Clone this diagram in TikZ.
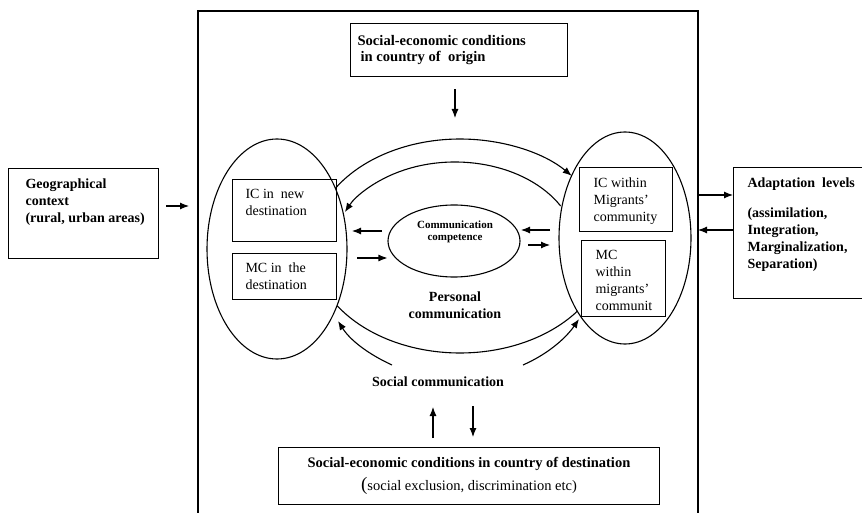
\documentclass[tikz,border=0pt]{standalone}
\usepackage{fontspec}
\setmainfont{Liberation Serif}
\usetikzlibrary{arrows.meta,shapes.geometric}
\begin{document}
\begin{tikzpicture}[x=1pt,y=1pt, line width=1.1pt,
  box/.style={draw, rectangle, inner sep=0pt, anchor=north west},
  txt/.style={inner sep=0pt, anchor=north west, align=left, font=\fontsize{14}{17}\selectfont},
  bt/.style={inner sep=0pt, anchor=north west, align=left, font=\fontsize{14}{17}\selectfont\bfseries},
  arr/.style={-{Latex[length=9pt,width=7pt]}},
  ell/.style={draw, ellipse, inner sep=0pt}]
\useasboundingbox (0,0) rectangle (862,-513);

% main frame
\coordinate (fbl) at (198,-513);
\coordinate (ftl) at (198,-11);
\coordinate (ftr) at (698,-11);
\coordinate (fbr) at (698,-513);
\draw (fbl) -- (ftl) -- (ftr) -- (fbr);

% boxes
\node[box, minimum width=150, minimum height=90] (geo) at (8,-168) {};
\node[bt] (geotxt) at (25,-178) {Geographical\\context\\(rural, urban areas)};

\node[box, minimum width=217, minimum height=53] (top) at (350,-23) {};
\node[bt, font=\fontsize{14.6}{16}\selectfont\bfseries] (toptxt) at (357,-35) {Social-economic conditions\\\hspace{3pt}in country of~ origin};

\node[box, minimum width=104, minimum height=62] (icnew) at (232,-179) {};
\node[txt] (icnewtxt) at (245,-189) {IC in~ new\\destination};
\node[box, minimum width=104, minimum height=46] (mcthe) at (232,-253) {};
\node[txt] (mcthetxt) at (245,-262) {MC in~ the\\destination};

\node[box, minimum width=93, minimum height=64] (icw) at (579,-167) {};
\node[txt] (icwtxt) at (593,-177) {IC within\\Migrants'\\community};
\node[box, minimum width=84, minimum height=76] (mcw) at (581,-240) {};
\node[txt] (mcwtxt) at (595,-250) {MC\\within\\migrants'\\communit};

\node[box, minimum width=140, minimum height=131] (adapt) at (733,-167) {};
\node[bt] (adapttxt) at (747,-177) {Adaptation~ levels\\[13pt](assimilation,\\Integration,\\Marginalization,\\Separation)};

\node[box, minimum width=381, minimum height=57] (dest) at (278,-447) {};
\node[inner sep=0pt, align=center, font=\fontsize{14.5}{23}\selectfont] (desttxt) at (469,-476)
  {\textbf{Social-economic conditions in country of destination}\\{\fontsize{19}{19}\selectfont(}social exclusion, discrimination etc)};

% ellipses
\node[ell, minimum width=140, minimum height=220] (L) at (277,-249) {};
\node[ell, minimum width=132, minimum height=212] (R) at (625,-238) {};
\node[ell, minimum width=132, minimum height=72] (cc) at (454,-241) {};
\node[inner sep=0pt, align=center, font=\fontsize{11}{12}\selectfont\bfseries] (cctxt) at (455,-232) {Communication\\competence};

\node[inner sep=0pt, align=center, font=\fontsize{14}{17}\selectfont\bfseries] (pers) at (455,-305) {Personal\\communication};
\node[inner sep=0pt, font=\fontsize{14}{17}\selectfont\bfseries] (soc) at (438,-382) {Social communication};

% ring arcs
\coordinate (B) at (460,-246);
\coordinate (Bi) at (455,-250);
\draw[arr] (B) ++(147.3:148 and 107) arc[start angle=147.3, end angle=41, x radius=148, y radius=107];
\draw (B) ++(213.9:148 and 107) arc[start angle=213.9, end angle=322.5, x radius=148, y radius=107];
\draw[arr] (Bi) ++(30:122 and 88) arc[start angle=30, end angle=154.5, x radius=122, y radius=88];

% social communication arrows
\coordinate (s1a) at (392,-365);
\coordinate (s1b) at (338,-321);
\coordinate (s2a) at (523,-365);
\coordinate (s2b) at (579,-319);
\draw[arr] (s1a) .. controls (368,-354) and (350,-340) .. (s1b);
\draw[arr] (s2a) .. controls (548,-354) and (566,-338) .. (s2b);

% straight arrows
\draw[arr] ([yshift=-12pt]top.south -| 455,0) -- (455,-118);
\draw[arr] ([xshift=7pt]geo.east |- 0,-206) -- (189,-206);
\draw[arr] (698,-195) -- (adapt.west |- 0,-195);
\draw[arr] (adapt.west |- 0,-230) -- (698,-230);
\draw[arr] (382,-231) -- (352,-231);
\draw[arr] (357,-258) -- (cc.west |- 0,-258);
\draw[arr] (550,-230) -- (521,-230);
\draw[arr] (528,-245) -- (550,-245);
\draw[arr] ([yshift=9pt]dest.north -| 433,0) -- (433,-407);
\draw[arr] (473,-406) -- ([yshift=10pt]dest.north -| 473,0);
\end{tikzpicture}
\end{document}
